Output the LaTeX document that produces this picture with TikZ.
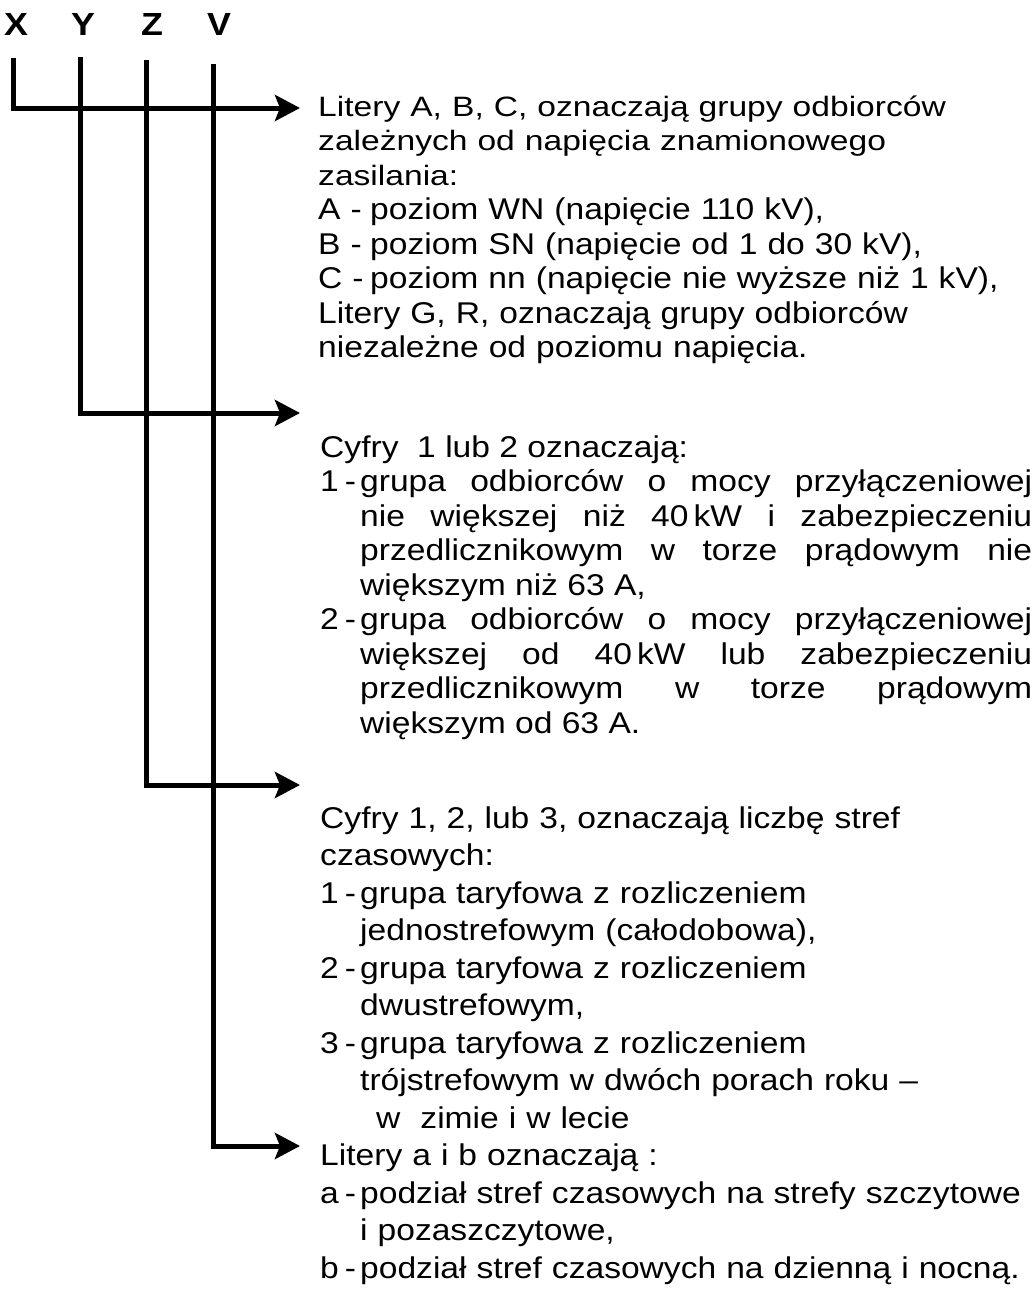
\documentclass[tikz,border=0pt]{standalone}
\usepackage{fontspec}
\setmainfont{Liberation Sans}[FakeStretch=1.12]
\newfontfamily\widesans{Liberation Sans}[FakeStretch=1.2]
\usetikzlibrary{arrows.meta}

\tikzset{
  wire/.style={line width=5pt},
  feed/.style={wire, -{Stealth[length=25pt,width=26pt,inset=5pt]}},
  txt/.style={inner sep=0pt, anchor=base west, align=left,
    font=\fontsize{30}{34.5}\selectfont},
  code/.style={inner sep=0pt, font=\fontsize{32}{32}\selectfont\bfseries}
}
\newcommand{\lbl}[1]{\makebox[40pt][l]{#1\hspace{0.2em}-}}

\begin{document}
\begin{tikzpicture}[x=1pt,y=-1pt]
\useasboundingbox (0,0) rectangle (1036,1304);

% Letters of the group code
\node[code] (lx) at (16,24) {X};
\node[code] (ly) at (83,24) {Y};
\node[code] (lz) at (152,24) {Z};
\node[code] (lv) at (219,24) {V};

% Top ends of the lines
\coordinate (tx) at (13,58);
\coordinate (ty) at (80,57);
\coordinate (tz) at (146,60);
\coordinate (tv) at (213,64);

% Arrow tips
\coordinate (ax) at (300,108);
\coordinate (ay) at (300,413);
\coordinate (az) at (300,785);
\coordinate (av) at (300,1146);

% Draw the lines
\draw[feed] (tx) |- (ax);
\draw[feed] (ty) |- (ay);
\draw[feed] (tz) |- (az);
\draw[feed] (tv) |- (av);

% First letter
\node[txt, text width=715pt] (xtxt) at (318,116) {%
{\widesans\fontsize{28}{34.5}\selectfont Litery A, B, C, oznaczają grupy odbiorców\\
zależnych od napięcia znamionowego\\
zasilania:}\\
\makebox[52pt][l]{A -}poziom WN (napięcie 110 kV),\\
\makebox[52pt][l]{B -}poziom SN (napięcie od 1 do 30 kV),\\
\makebox[52pt][l]{C -}poziom nn (napięcie nie wyższe niż 1 kV),\\
Litery G, R, oznaczają grupy odbiorców\\
niezależne od poziomu napięcia.};

% Second letter
\node[txt, text width=712pt, align=justify] (ytxt) at (320,457) {%
\parindent=0pt\tolerance=10000\hyphenpenalty=10000\exhyphenpenalty=10000
Cyfry\ \ 1 lub 2 oznaczają:\par
\hangindent=40pt\hangafter=1
\lbl{1}grupa odbiorców o mocy przyłączeniowej\linebreak
nie większej niż 40\,kW i zabezpieczeniu\linebreak
przedlicznikowym w torze prądowym nie\linebreak
większym niż 63 A,\par
\hangindent=40pt\hangafter=1
\lbl{2}grupa odbiorców o mocy przyłączeniowej\linebreak
większej od 40\,kW lub zabezpieczeniu\linebreak
przedlicznikowym w torze prądowym\linebreak
większym od 63 A.\par};

% Third and fourth letter
\node[txt, text width=760pt, font=\fontsize{30}{37.5}\selectfont] (ztxt) at (320,828) {%
\hyphenpenalty=10000
Cyfry 1, 2, lub 3, oznaczają liczbę stref\\
czasowych:\\
\lbl{1}grupa taryfowa z rozliczeniem\\
\hspace*{40pt}jednostrefowym (całodobowa),\\
\lbl{2}grupa taryfowa z rozliczeniem\\
\hspace*{40pt}dwustrefowym,\\
\lbl{3}grupa taryfowa z rozliczeniem\\
\hspace*{40pt}trójstrefowym w dwóch porach roku --\\
\hspace*{56pt}w\ \ zimie i w lecie\\
Litery a i b oznaczają :\\
\lbl{a}podział stref czasowych na strefy szczytowe\\
\hspace*{40pt}i pozaszczytowe,\\
\lbl{b}podział stref czasowych na dzienną i nocną.};

\end{tikzpicture}
\end{document}
